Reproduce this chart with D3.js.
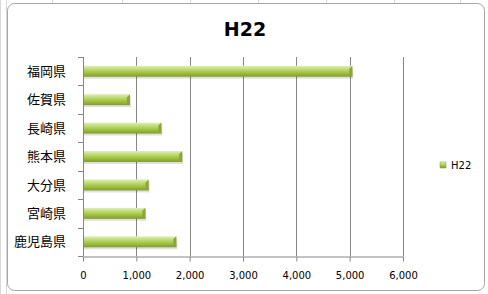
<!DOCTYPE html>
<html>
<head>
<meta charset="utf-8">
<script src="https://cdn.jsdelivr.net/npm/d3@7"></script>
<style>
  body { margin: 0; background: #ffffff; }
  svg { display: block; }
</style>
</head>
<body>
<svg id="chart" width="488" height="294"></svg>
<script>
// data
const prefectures = ['福岡県', '佐賀県', '長崎県', '熊本県', '大分県', '宮崎県', '鹿児島県'];
const valuesH22 = [5050, 880, 1470, 1860, 1230, 1170, 1750];
const xTicks = [0, 1000, 2000, 3000, 4000, 5000, 6000];
const seriesName = 'H22';

const svg = d3.select('#chart');

// spreadsheet grid behind the chart
const sheet = svg.append('g');
[0, 6].forEach((x) => sheet.append('line').attr('x1', x + 0.5).attr('x2', x + 0.5)
  .attr('y1', 0).attr('y2', 294).attr('stroke', '#d8d8d8'));
[52, 122, 190, 258, 326, 394, 460].forEach((x) => sheet.append('line')
  .attr('x1', x + 0.5).attr('x2', x + 0.5).attr('y1', 0).attr('y2', 3).attr('stroke', '#d8d8d8'));

// chart area
svg.append('rect')
  .attr('x', 7.5).attr('y', 3.5)
  .attr('width', 477).attr('height', 287)
  .attr('rx', 7)
  .attr('fill', '#ffffff')
  .attr('stroke', '#a6a6a6');

const margin = { top: 57, left: 83, right: 85, bottom: 38 };
const width = 488, height = 294;

const x = d3.scaleLinear()
  .domain([0, 6000])
  .range([margin.left, width - margin.right]);

const y = d3.scaleBand()
  .domain(prefectures)
  .range([margin.top, height - margin.bottom]);

// gradient for bars
const defs = svg.append('defs');
const grad = defs.append('linearGradient')
  .attr('id', 'barGrad').attr('x1', 0).attr('y1', 0).attr('x2', 0).attr('y2', 1);
grad.append('stop').attr('offset', '0%').attr('stop-color', '#e3efbd');
grad.append('stop').attr('offset', '25%').attr('stop-color', '#c6df80');
grad.append('stop').attr('offset', '60%').attr('stop-color', '#a4c643');
grad.append('stop').attr('offset', '100%').attr('stop-color', '#7f9c33');

// gridlines
svg.append('g')
  .selectAll('line')
  .data(xTicks.slice(1))
  .enter()
  .append('line')
  .attr('x1', (d) => Math.round(x(d)) + 0.5)
  .attr('x2', (d) => Math.round(x(d)) + 0.5)
  .attr('y1', margin.top)
  .attr('y2', height - margin.bottom)
  .attr('stroke', '#868686');

// bars
const barH = 11;
const bars = svg.append('g');
bars.selectAll('.shadow')
  .data(valuesH22)
  .enter()
  .append('rect')
  .attr('class', 'shadow')
  .attr('x', x(0) + 1)
  .attr('y', (d, i) => y(prefectures[i]) + y.bandwidth() / 2 - barH / 2 + 2)
  .attr('width', (d) => x(d) - x(0))
  .attr('height', barH)
  .attr('fill', '#000')
  .attr('opacity', 0.12);

bars.selectAll('.bar')
  .data(valuesH22)
  .enter()
  .append('rect')
  .attr('class', 'bar')
  .attr('x', x(0))
  .attr('y', (d, i) => y(prefectures[i]) + y.bandwidth() / 2 - barH / 2)
  .attr('width', (d) => x(d) - x(0))
  .attr('height', barH)
  .attr('fill', 'url(#barGrad)');

// bevel at bar end
bars.selectAll('.bevel')
  .data(valuesH22)
  .enter()
  .append('path')
  .attr('class', 'bevel')
  .attr('d', (d, i) => {
    const x1 = x(d), y0 = y(prefectures[i]) + y.bandwidth() / 2 - barH / 2;
    return `M${x1 - 3},${y0 + 3} L${x1},${y0} L${x1},${y0 + barH} L${x1 - 3},${y0 + barH - 2} Z`;
  })
  .attr('fill', '#8aa63a');

// x axis
const xAxis = d3.axisBottom(x)
  .tickValues(xTicks)
  .tickFormat(d3.format(','))
  .tickSize(5)
  .tickSizeOuter(0);

const gx = svg.append('g')
  .attr('transform', `translate(0,${height - margin.bottom + 0.5})`)
  .call(xAxis);
gx.select('.domain').attr('stroke', '#868686');
gx.selectAll('.tick line').attr('stroke', '#868686');
gx.selectAll('.tick text')
  .attr('dy', 0).attr('y', 22)
  .attr('font-family', 'DejaVu Sans, sans-serif')
  .attr('font-size', 10)
  .attr('fill', '#000');

// y axis line and boundary ticks
const gy = svg.append('g');
gy.append('line')
  .attr('x1', x(0) + 0.5).attr('x2', x(0) + 0.5)
  .attr('y1', margin.top).attr('y2', height - margin.bottom)
  .attr('stroke', '#868686');
gy.selectAll('.ytick')
  .data(prefectures.map((p) => y(p)).concat([height - margin.bottom]))
  .enter()
  .append('line')
  .attr('x1', x(0) - 5).attr('x2', x(0))
  .attr('y1', (d) => Math.round(d) + 0.5)
  .attr('y2', (d) => Math.round(d) + 0.5)
  .attr('stroke', '#868686');

// category labels
gy.selectAll('.ylabel')
  .data(prefectures)
  .enter()
  .append('text')
  .attr('x', 66)
  .attr('y', (d) => y(d) + y.bandwidth() / 2)
  .attr('dy', '0.36em')
  .attr('text-anchor', 'end')
  .attr('font-family', 'Noto Sans CJK JP, sans-serif')
  .attr('font-size', 13)
  .text((d) => d);

// title
svg.append('text')
  .attr('x', 245)
  .attr('y', 36)
  .attr('text-anchor', 'middle')
  .attr('font-family', 'DejaVu Sans, sans-serif')
  .attr('font-weight', 'bold')
  .attr('font-size', 19)
  .text(seriesName);

// legend
const legend = svg.append('g').attr('transform', 'translate(440,162)');
legend.append('rect')
  .attr('width', 6).attr('height', 6)
  .attr('fill', 'url(#barGrad)')
  .attr('stroke', '#7f9c33').attr('stroke-width', 0.5);
legend.append('text')
  .attr('x', 11).attr('y', 3)
  .attr('dy', '0.36em')
  .attr('font-family', 'DejaVu Sans, sans-serif')
  .attr('font-size', 10)
  .text(seriesName);
</script>
</body>
</html>
